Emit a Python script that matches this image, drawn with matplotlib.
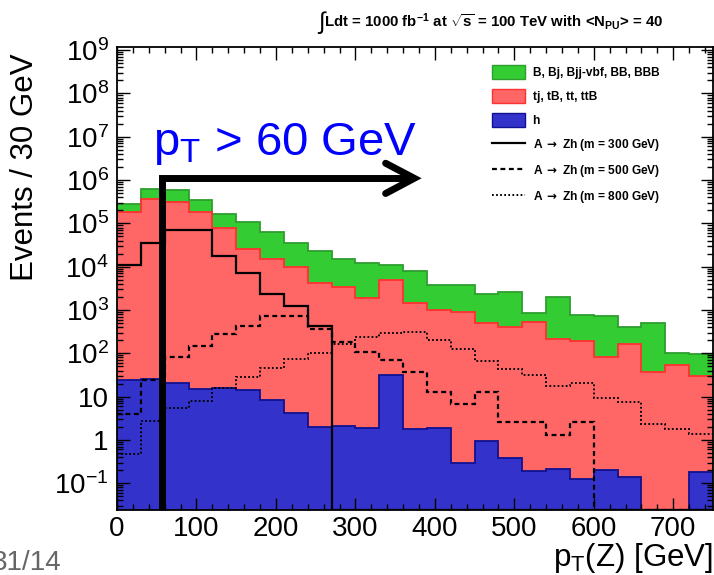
import numpy as np
import matplotlib
matplotlib.use("Agg")
import matplotlib.pyplot as plt
from matplotlib.patches import Patch
from matplotlib.lines import Line2D
from matplotlib.ticker import MultipleLocator, LogLocator, FuncFormatter, NullFormatter

plt.rcParams['font.family'] = ['Liberation Sans', 'DejaVu Sans']
plt.rcParams['mathtext.fontset'] = 'custom'
plt.rcParams['mathtext.rm'] = 'Liberation Sans'
plt.rcParams['mathtext.it'] = 'Liberation Sans:italic'
plt.rcParams['mathtext.bf'] = 'Liberation Sans:bold'
plt.rcParams['mathtext.sf'] = 'DejaVu Sans:bold'
plt.rcParams['axes.unicode_minus'] = False

# 30 GeV bins from 0 to 750 GeV
edges = np.arange(0, 751, 30)

# stacked backgrounds, events / 30 GeV
higgs = [23.9, 25.6, 20.1, 15.1, 15.4, 14.1, 8.26, 4.07, 2.0, 2.07, 1.93, 31.2, 1.74,
         1.93, 0.285, 0.948, 0.384, 0.189, 0.214, 0.124, 0.207, 0.14, 0, 0, 0.177]
top = [1.88e5, 3.62e5, 3.09e5, 1.79e5, 7.87e4, 2.5e4, 1.49e4, 9.9e3, 4.09e3, 3.41e3,
       1.85e3, 4.85e3, 1.41e3, 987, 875, 487, 394, 531, 208, 193, 82.4, 168, 36, 53, 30]
bkg = [8.9e4, 2.45e5, 2.76e5, 1.65e5, 9.0e4, 8.3e4, 4.9e4, 2.5e4, 1.87e4, 1.13e4,
       1.04e4, 5.8e3, 6.6e3, 2.75e3, 3.0e3, 1.91e3, 2.23e3, 326, 1.77e3, 566, 648,
       239, 452, 51, 64]

# A -> Zh signals
sig300 = [1.12e4, 3.55e4, 6.97e4, 6.97e4, 1.75e4, 7.2e3, 2.32e3, 1.24e3, 423,
          0, 0, 0, 0, 0, 0, 0, 0, 0, 0, 0, 0, 0, 0, 0, 0]
sig500 = [3.86, 23.9, 82.6, 146, 276, 423, 719, 731, 355, 183, 106, 69.3, 36, 12.8,
          6.57, 12.8, 2.6, 2.6, 1.28, 2.6, 0, 0, 0, 0, 0]
sig800 = [0.46, 2.75, 5.48, 7.83, 15.4, 28.5, 44.6, 73.1, 102, 167, 232, 296, 312, 208,
          124, 65.7, 44, 30.7, 17.7, 20.4, 9.04, 7.31, 2.31, 1.83, 1.36]

arrow = r'$\mathsf{\rightarrow}$'
labels = ['B, Bj, Bjj-vbf, BB, BBB', 'tj, tB, tt, ttB', 'h',
          'A ' + arrow + ' Zh (m = 300 GeV)', 'A ' + arrow + ' Zh (m = 500 GeV)',
          'A ' + arrow + ' Zh (m = 800 GeV)']

ymin, ymax = 0.024, 1.2e9
cut = 56  # pT cut marker position

green, dgreen = '#33cc33', '#2e9e2e'
red, dred = '#ff6666', '#ff3030'
blue, dblue = '#3333cc', '#101090'

fig = plt.figure(figsize=(7.14, 5.75), dpi=100)
ax = fig.add_axes([0.1639, 0.1130, 0.8347, 0.8057])

h = np.array(higgs)
s_h = h
s_t = h + np.array(top)
s_all = s_t + np.array(bkg)

for vals, fc, ec in [(s_all, green, dgreen), (s_t, red, dred), (s_h, blue, dblue)]:
    v = np.clip(vals, ymin, None)
    ax.stairs(v, edges, baseline=ymin, fill=True, color=fc, lw=0)
    ax.stairs(v, edges, baseline=None, color=ec, lw=1.3)

ax.stairs(np.clip(sig300, ymin, None), edges, baseline=None, color='k', lw=1.6)
ax.stairs(np.clip(sig500, ymin, None), edges, baseline=None, color='k', lw=1.6,
          linestyle=(0, (2.2, 1.6)))
ax.stairs(np.clip(sig800, ymin, None), edges, baseline=None, color='k', lw=1.4,
          linestyle=(0, (0.9, 1.2)))

ax.set_yscale('log')
ax.set_xlim(0, 750)
ax.set_ylim(ymin, ymax)

# cut marker and arrow
ax.plot([cut, cut, 374], [ymin, 1.1e6, 1.1e6], color='k', lw=5, clip_on=False,
        solid_joinstyle='miter', solid_capstyle='butt', zorder=5)
ax.plot([338, 374, 338], [2.45e6, 1.1e6, 4.9e5], color='k', lw=5, clip_on=False,
        solid_joinstyle='miter', solid_capstyle='round', zorder=5)
ax.text(45.7, 3.76e6, r'p$_\mathrm{T}$ > 60 GeV', color='#0000ff', fontsize=34,
        ha='left', va='baseline', zorder=6)

ax.xaxis.set_major_locator(MultipleLocator(100))
ax.xaxis.set_minor_locator(MultipleLocator(20))
ax.yaxis.set_major_locator(LogLocator(base=10, numticks=30))
ax.yaxis.set_minor_locator(LogLocator(base=10, subs=np.arange(2, 10), numticks=30))
ax.yaxis.set_minor_formatter(NullFormatter())


def ylab(v, pos):
    e = int(round(np.log10(v)))
    if e == 0:
        return '1'
    if e == 1:
        return '10'
    return '10$^{%d}$' % e


ax.yaxis.set_major_formatter(FuncFormatter(ylab))
ax.tick_params(which='both', direction='in', top=True, right=True, width=1,
               labelsize=20, zorder=10)
ax.tick_params(which='major', length=9)
ax.tick_params(which='minor', length=4.5)
ax.tick_params(axis='x', pad=4)
ax.tick_params(axis='y', pad=6)
for sp in ax.spines.values():
    sp.set_linewidth(1.3)
    sp.set_zorder(10)

handles = [Patch(facecolor=green, edgecolor=dgreen),
           Patch(facecolor=red, edgecolor=dred),
           Patch(facecolor=blue, edgecolor=dblue),
           Line2D([], [], color='k', lw=1.6),
           Line2D([], [], color='k', lw=1.6, linestyle=(0, (2.2, 1.6))),
           Line2D([], [], color='k', lw=1.4, linestyle=(0, (0.9, 1.2)))]
ax.legend(handles, labels, loc='upper left', bbox_to_anchor=(0.630, 0.9605),
          frameon=False, prop={'weight': 'bold', 'size': 8.6}, handlelength=2.75,
          handleheight=1.4, handletextpad=0.6, labelspacing=0.85, borderpad=0,
          borderaxespad=0)

# title, with a larger integral sign placed just before it
title = fig.text(0.692, 0.953,
                 r'Ldt = 1000 fb$^{\mathbf{-1}}$ at $\sqrt{\mathbf{s}}$ = 100 TeV with <N$_{\mathbf{PU}}$> = 40',
                 ha='center', va='baseline', fontsize=10.8, fontweight='bold')
ax.annotate('\u222b', xy=(0, 0.45), xycoords=title, ha='right', va='center',
            fontsize=17, annotation_clip=False)

fig.text(0.035, 0.71, 'Events / 30 GeV', rotation=90, ha='center', va='center', fontsize=22.5)
fig.text(0.998, 0.016, r'p$_\mathrm{T}$(Z) [GeV]', ha='right', va='baseline', fontsize=22.5)
fig.text(-0.012, 0.009, '31/14', color='#666666', ha='left', va='baseline', fontsize=20)

fig.savefig('out.png', dpi=100)
